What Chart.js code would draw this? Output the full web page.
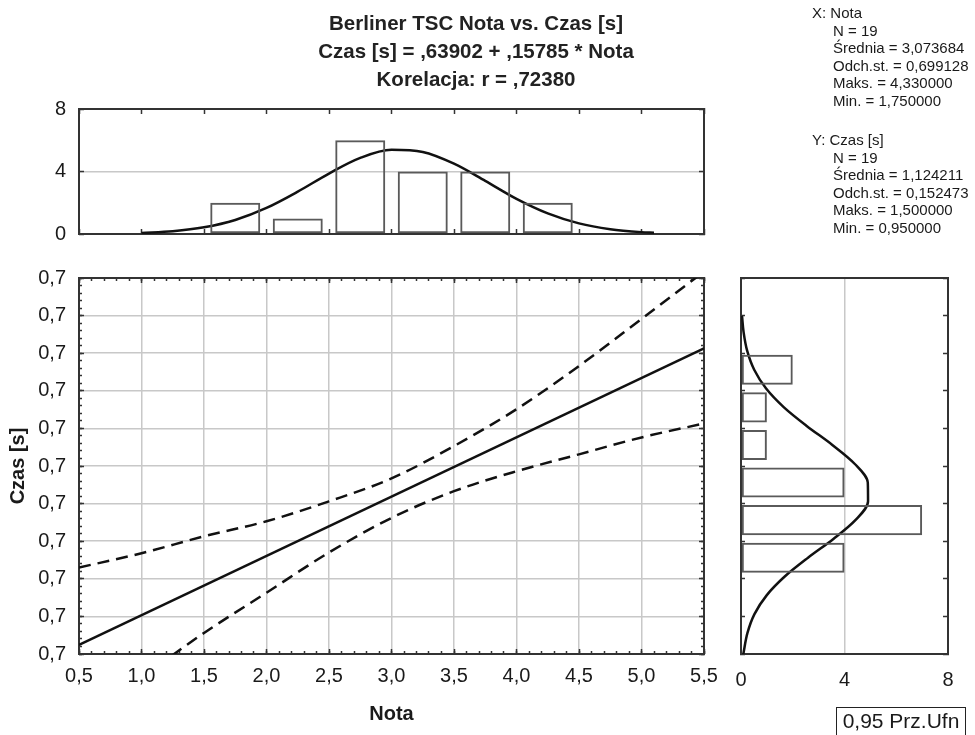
<!DOCTYPE html>
<html>
<head>
<meta charset="utf-8">
<script src="https://cdn.jsdelivr.net/npm/chart.js@4.4.1/dist/chart.umd.min.js"></script>
<style>
  body { margin: 0; background: #fff; }
  #wrap { position: relative; width: 975px; height: 735px; overflow: hidden; background: #fff;
          font-family: "Liberation Sans", Arial, sans-serif; color: #1a1a1a; }
  canvas { position: absolute; }
  .stats { position: absolute; font-size: 15px; line-height: 17.6px; white-space: nowrap; }
  .stats .ind { padding-left: 21px; }
  #legendBox { position: absolute; left: 836px; top: 707px; width: 130px; height: 34px; box-sizing: border-box;
               border: 1.5px solid #222; font-size: 21px; line-height: 26px; text-align: center; }
</style>
</head>
<body>
<div id="wrap">
  <canvas id="topHist" width="952" height="250" style="left:0;top:0"></canvas>
  <canvas id="mainPlot" width="730" height="485" style="left:0;top:250px"></canvas>
  <canvas id="sideHist" width="245" height="485" style="left:730px;top:250px"></canvas>

  <div class="stats" style="left:812px;top:4px">
    <div>X: Nota</div>
    <div class="ind">N = 19</div>
    <div class="ind">Średnia = 3,073684</div>
    <div class="ind">Odch.st. = 0,699128</div>
    <div class="ind">Maks. = 4,330000</div>
    <div class="ind">Min. = 1,750000</div>
  </div>
  <div class="stats" style="left:812px;top:131px">
    <div>Y: Czas [s]</div>
    <div class="ind">N = 19</div>
    <div class="ind">Średnia = 1,124211</div>
    <div class="ind">Odch.st. = 0,152473</div>
    <div class="ind">Maks. = 1,500000</div>
    <div class="ind">Min. = 0,950000</div>
  </div>
  <div id="legendBox">0,95 Prz.Ufn</div>
</div>

<script>
// histogram of Nota (top)
const notaBins = [1.75, 2.25, 2.75, 3.25, 3.75, 4.25];
const notaCounts = [2, 1, 6, 4, 4, 2];
// normal curve over the Nota histogram
const notaCurveX = [1.0, 1.25, 1.5, 1.75, 2.0, 2.25, 2.5, 2.75, 3.0, 3.25, 3.5, 3.75, 4.0, 4.25, 4.5, 4.75, 5.0, 5.1];
const notaCurveY = [0.07, 0.18, 0.43, 0.90, 1.67, 2.71, 3.87, 4.87, 5.39, 5.25, 4.50, 3.40, 2.25, 1.32, 0.68, 0.31, 0.12, 0.08];

// histogram of Czas [s] (right side)
const czasBins = [0.95, 1.05, 1.15, 1.25, 1.35, 1.45];
const czasCounts = [4, 7, 4, 1, 1, 2];
const czasCurveY = [0.694, 0.75, 0.80, 0.85, 0.90, 0.95, 1.00, 1.05, 1.10, 1.15, 1.20, 1.25, 1.30, 1.35, 1.40, 1.45, 1.50, 1.55, 1.593];
const czasCurveX = [0.09, 0.25, 0.52, 0.99, 1.69, 2.59, 3.57, 4.42, 4.91, 4.90, 4.39, 3.53, 2.55, 1.66, 0.97, 0.51, 0.24, 0.10, 0.04];

// regression line and 0.95 confidence bands
const fitX = [0.5, 5.5];
const fitY = [0.718, 1.507];
const bandX = [0.5, 1.0, 1.5, 2.0, 2.5, 3.0, 3.5, 4.0, 4.5, 5.0, 5.5];
const bandUpper = [0.924, 0.962, 1.007, 1.047, 1.100, 1.161, 1.247, 1.345, 1.460, 1.585, 1.711];
const bandLower = [0.512, 0.631, 0.750, 0.857, 0.964, 1.056, 1.127, 1.180, 1.225, 1.270, 1.307];

// tick labels
const xTickLabels = ['0,5', '1,0', '1,5', '2,0', '2,5', '3,0', '3,5', '4,0', '4,5', '5,0', '5,5'];
const yTickLabels = ['0,7', '0,7', '0,7', '0,7', '0,7', '0,7', '0,7', '0,7', '0,7', '0,7', '0,7'];
const countTickLabels = ['0', '4', '8'];

const X_MIN = 0.5, X_MAX = 5.5;
const Y_MIN = 0.694, Y_MAX = 1.694;

Chart.defaults.font.family = '"Liberation Sans", Arial, sans-serif';
Chart.defaults.font.size = 20;
Chart.defaults.color = '#1a1a1a';
Chart.defaults.animation = false;
Chart.defaults.plugins.legend.display = false;
Chart.defaults.plugins.tooltip.enabled = false;

const FRAME = '#333';
const GRID = '#c8c8c8';
const BAR_EDGE = '#5a5a5a';
const NONE = 'rgba(0,0,0,0)';

function pts(xs, ys) {
  return xs.map((x, i) => ({ x: x, y: ys[i] }));
}

// an axis that only draws small tick marks inside the plot (and maybe its border)
function tickAxis(position, min, max, step, len, border, size) {
  return {
    type: 'linear', position: position, min: min, max: max, offset: false,
    ticks: { display: false, stepSize: step },
    grid: { drawOnChartArea: false, offset: false, tickLength: -len, tickColor: FRAME, tickWidth: 1.5 },
    border: { display: border, color: FRAME, width: 2 },
    weight: border ? 0 : -10,
    afterFit: s => { if (s.isHorizontal()) s.height = size || 0; else s.width = size || 0; }
  };
}

// an axis carrying the labels; the gap to the labels is an invisible tick
function labelAxis(position, min, max, step, labels, gap, size, grid) {
  return {
    type: 'linear', position: position, min: min, max: max, offset: false,
    ticks: { stepSize: step, padding: 0, maxRotation: 0, callback: (v, i) => labels[i] },
    grid: { display: true, drawOnChartArea: grid, color: GRID, lineWidth: 1.5, offset: false,
            tickLength: gap, tickColor: NONE },
    border: { color: FRAME, width: 2 },
    afterFit: s => { if (s.isHorizontal()) s.height = size; else s.width = size; }
  };
}

// ---- top histogram with the title ----
new Chart(document.getElementById('topHist'), {
  type: 'bar',
  data: {
    datasets: [{
      data: pts(notaBins, notaCounts),
      backgroundColor: NONE,
      borderColor: BAR_EDGE, borderWidth: 2, borderSkipped: false,
      barPercentage: 0.8, categoryPercentage: 1
    }, {
      type: 'line',
      data: pts(notaCurveX, notaCurveY),
      borderColor: '#111', borderWidth: 2.5, pointRadius: 0,
      cubicInterpolationMode: 'monotone'
    }]
  },
  options: {
    responsive: false,
    layout: { padding: 0 },
    plugins: {
      title: {
        display: true,
        text: ['Berliner TSC Nota vs. Czas [s]', 'Czas [s] = ,63902 + ,15785 * Nota', 'Korelacja: r = ,72380'],
        font: { size: 20.5, weight: 'bold', lineHeight: 1.35 },
        color: '#222',
        padding: { top: 11, bottom: 15 }
      }
    },
    scales: {
      x: tickAxis('bottom', X_MIN, X_MAX, 0.5, 5, true, 16),
      xTop: tickAxis('top', X_MIN, X_MAX, 0.5, 5, true, 0),
      y: labelAxis('left', 0, 8, 4, countTickLabels, 13, 79, true),
      yTicks: tickAxis('left', 0, 8, 4, 5, false, 0),
      yRight: tickAxis('right', 0, 8, 4, 5, true, 248)
    }
  }
});

// ---- main plot: regression line with confidence bands ----
const mainX = labelAxis('bottom', X_MIN, X_MAX, 0.5, xTickLabels, 10, 81, true);
mainX.title = { display: true, text: 'Nota', font: { size: 20, weight: 'bold' }, padding: { top: 0, bottom: 9 } };
const mainY = labelAxis('left', Y_MIN, Y_MAX, 0.1, yTickLabels, 13, 79, true);
mainY.title = { display: true, text: 'Czas [s]', font: { size: 20, weight: 'bold' }, padding: { top: 6, bottom: 0 } };

new Chart(document.getElementById('mainPlot'), {
  type: 'line',
  data: {
    datasets: [{
      data: pts(fitX, fitY),
      borderColor: '#111', borderWidth: 2.5, pointRadius: 0
    }, {
      data: pts(bandX, bandUpper),
      borderColor: '#111', borderWidth: 2.5, pointRadius: 0, borderDash: [12, 7],
      cubicInterpolationMode: 'monotone'
    }, {
      data: pts(bandX, bandLower),
      borderColor: '#111', borderWidth: 2.5, pointRadius: 0, borderDash: [12, 7],
      cubicInterpolationMode: 'monotone'
    }]
  },
  options: {
    responsive: false,
    layout: { padding: { left: 0, right: 26, top: 28, bottom: 0 } },
    scales: {
      x: mainX,
      xTicks: tickAxis('bottom', X_MIN, X_MAX, 0.5, 5, false, 0),
      xMinor: tickAxis('bottom', X_MIN, X_MAX, 0.1, 3, false, 0),
      xTop: tickAxis('top', X_MIN, X_MAX, 0.5, 5, true, 0),
      xTopMinor: tickAxis('top', X_MIN, X_MAX, 0.1, 3, false, 0),
      y: mainY,
      yTicks: tickAxis('left', Y_MIN, Y_MAX, 0.1, 5, false, 0),
      yMinor: tickAxis('left', Y_MIN, Y_MAX, 0.02, 3, false, 0),
      yRight: tickAxis('right', Y_MIN, Y_MAX, 0.1, 5, true, 0),
      yRightMinor: tickAxis('right', Y_MIN, Y_MAX, 0.02, 3, false, 0)
    }
  }
});

// ---- side histogram of Czas [s] ----
new Chart(document.getElementById('sideHist'), {
  type: 'bar',
  data: {
    datasets: [{
      data: pts(czasCounts, czasBins),
      backgroundColor: NONE,
      borderColor: BAR_EDGE, borderWidth: 2, borderSkipped: false,
      barPercentage: 0.8, categoryPercentage: 1
    }, {
      type: 'line',
      indexAxis: 'y',
      data: pts(czasCurveX, czasCurveY),
      borderColor: '#111', borderWidth: 2.5, pointRadius: 0,
      cubicInterpolationMode: 'monotone'
    }]
  },
  options: {
    responsive: false,
    indexAxis: 'y',
    layout: { padding: { left: 11, right: 27, top: 28, bottom: 0 } },
    scales: {
      x: labelAxis('bottom', 0, 8, 4, countTickLabels, 14, 81, true),
      xTop: {
        type: 'linear', position: 'top', min: 0, max: 8, offset: false,
        ticks: { display: false },
        grid: { drawOnChartArea: false, drawTicks: false, offset: false },
        border: { color: FRAME, width: 2 },
        afterFit: s => { s.height = 0; }
      },
      y: {
        type: 'linear', position: 'left', min: Y_MIN, max: Y_MAX, offset: false,
        ticks: { display: false, stepSize: 0.1 },
        grid: { drawOnChartArea: false, offset: false, tickLength: -4, tickColor: FRAME, tickWidth: 1.5 },
        border: { color: FRAME, width: 2 },
        afterFit: s => { s.width = 0; }
      },
      yRight: tickAxis('right', Y_MIN, Y_MAX, 0.1, 5, true, 0)
    }
  }
});
</script>
</body>
</html>
